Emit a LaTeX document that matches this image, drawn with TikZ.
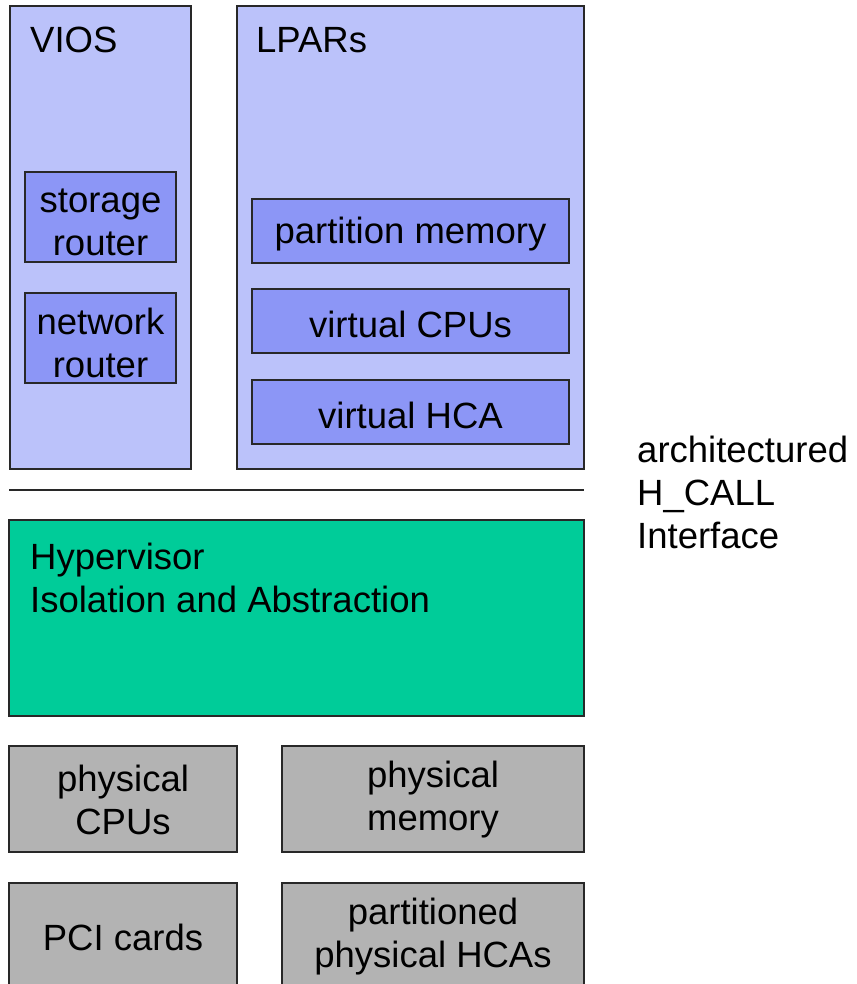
\documentclass[tikz,border=0pt]{standalone}
\usepackage{fontspec}
\setmainfont{Liberation Sans}
\definecolor{outerblue}{RGB}{187,194,250}
\definecolor{innerblue}{RGB}{140,150,246}
\definecolor{hvgreen}{RGB}{0,204,153}
\definecolor{hwgray}{RGB}{179,179,179}
\definecolor{edge}{RGB}{40,40,40}
\begin{document}
\begin{tikzpicture}[x=1pt,y=-1pt,
  every node/.style={font=\fontsize{36.5}{43}\selectfont},
  box/.style={draw=edge, line width=1.1pt, inner sep=0pt, outer sep=0pt},
  partbox/.style={box, fill=outerblue},
  compbox/.style={box, fill=innerblue},
  hwbox/.style={box, fill=hwgray},
  boxtext/.style={inner sep=0pt, align=center},
  label/.style={inner sep=0pt, anchor=base west, align=left}]
\useasboundingbox (0,0) rectangle (856,984);
\clip (0,0) rectangle (856,984);

% partitions
\node[partbox, minimum width=181pt, minimum height=463pt] (vios) at (100.5,237.5) {};
\node[partbox, minimum width=347pt, minimum height=463pt] (lpars) at (410.5,237.5) {};
\node[label] (viostitle) at (30,53) {VIOS};
\node[label] (lparstitle) at (256,53) {LPARs};

% VIOS components
\node[compbox, minimum width=151pt, minimum height=90pt] (storage) at (100.5,217) {};
\node[boxtext] (storagetext) at ([yshift=-5pt]storage.center) {storage\\router};
\node[compbox, minimum width=151pt, minimum height=90pt] (network) at (100.5,338) {};
\node[boxtext] (networktext) at ([yshift=-5pt]network.center) {network\\router};

% LPAR components
\node[compbox, minimum width=317pt, minimum height=64pt] (pmem) at (410.5,231) {};
\node[boxtext] (pmemtext) at ([yshift=-3pt]pmem.center) {partition memory};
\node[compbox, minimum width=317pt, minimum height=64pt] (vcpu) at (410.5,321) {};
\node[boxtext] (vcputext) at ([yshift=-3pt]vcpu.center) {virtual CPUs};
\node[compbox, minimum width=317pt, minimum height=64pt] (vhca) at (410.5,412) {};
\node[boxtext] (vhcatext) at ([yshift=-3pt]vhca.center) {virtual HCA};

% H_CALL interface boundary
\coordinate (ifl) at (9,490);
\coordinate (ifr) at (584,490);
\draw[edge, line width=1.1pt] (ifl) -- (ifr);
\node[label] (iface) at (637,548) {architectured\\H\_CALL\\Interface};

% hypervisor layer
\node[box, fill=hvgreen, minimum width=575pt, minimum height=196pt] (hyp) at (296.5,618) {};
\node[label] (hyptext) at (30,612) {Hypervisor\\Isolation and Abstraction};

% physical resources
\node[hwbox, minimum width=228pt, minimum height=106pt] (pcpu) at (123,799) {};
\node[boxtext] (pcputext) at ([yshift=-1pt]pcpu.center) {physical\\CPUs};
\node[hwbox, minimum width=302pt, minimum height=106pt] (pmemory) at (433,799) {};
\node[boxtext] (pmemorytext) at ([yshift=-1pt]pmemory.center) {physical\\memory};
\node[hwbox, minimum width=228pt, minimum height=106pt] (pci) at (123,936) {};
\node[boxtext] (pcitext) at ([yshift=-1pt]pci.center) {PCI cards};
\node[hwbox, minimum width=302pt, minimum height=106pt] (phca) at (433,936) {};
\node[boxtext] (phcatext) at ([yshift=-1pt]phca.center) {partitioned\\physical HCAs};
\end{tikzpicture}
\end{document}
